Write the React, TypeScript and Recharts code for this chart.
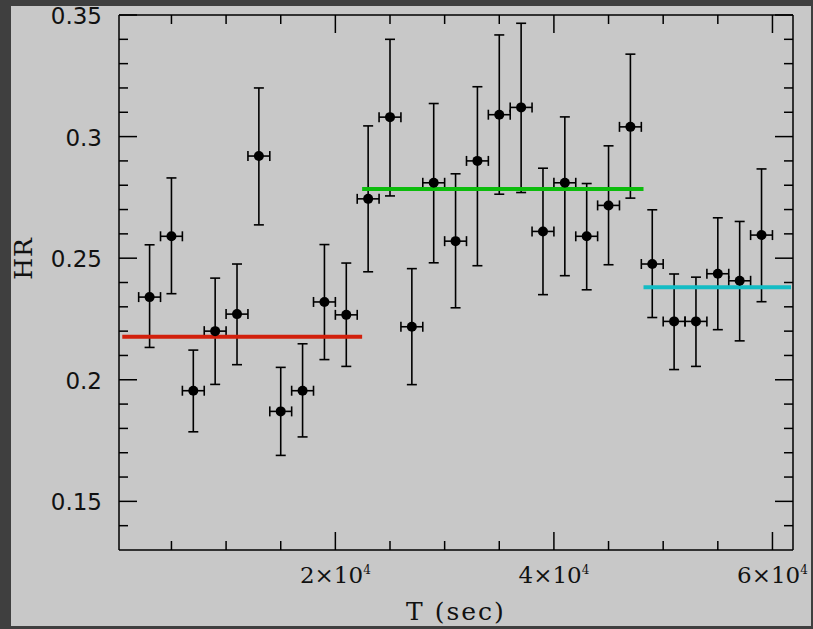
import React from 'react';
import {
  ComposedChart,
  Scatter,
  XAxis,
  YAxis,
  ErrorBar,
  ReferenceLine,
  Label,
} from 'recharts';

// time bin centres (sec) and hardness ratio with its error range
const times = [
  3000, 5000, 7000, 9000, 11000, 13000, 15000, 17000, 19000, 21000,
  23000, 25000, 27000, 29000, 31000, 33000, 35000, 37000, 39000, 41000,
  43000, 45000, 47000, 49000, 51000, 53000, 55000, 57000, 59000,
];
const hrValues = [
  0.234, 0.259, 0.1955, 0.22, 0.227, 0.292, 0.187, 0.1955, 0.232, 0.2267,
  0.2744, 0.308, 0.2218, 0.281, 0.257, 0.29, 0.309, 0.312, 0.261, 0.281,
  0.259, 0.2717, 0.304, 0.2476, 0.224, 0.224, 0.2436, 0.2407, 0.2595,
];
const hrUpper = [
  0.2555, 0.283, 0.2122, 0.2418, 0.2476, 0.32, 0.2051, 0.2148, 0.2556, 0.248,
  0.3044, 0.34, 0.2457, 0.3136, 0.2847, 0.3205, 0.3418, 0.3466, 0.287, 0.3081,
  0.2807, 0.2962, 0.3339, 0.2699, 0.2435, 0.2422, 0.2666, 0.2651, 0.2867,
];
const hrLower = [
  0.2133, 0.2354, 0.1786, 0.1981, 0.2062, 0.2637, 0.1689, 0.1765, 0.2083, 0.2055,
  0.2444, 0.2756, 0.198, 0.2481, 0.2296, 0.2469, 0.2763, 0.277, 0.235, 0.2428,
  0.237, 0.2473, 0.2747, 0.2256, 0.2042, 0.2055, 0.2206, 0.216, 0.2321,
];
const halfBin = 1000;

// mean HR of the three intervals
const fitStarts = [500, 22450, 48200];
const fitEnds = [22450, 48200, 61700];
const fitLevels = [0.2177, 0.2785, 0.238];
const fitColors = ['#d2200c', '#0cbc0c', '#14bcc4'];

const xTicks = [
  5000, 10000, 15000, 20000, 25000, 30000, 35000, 40000, 45000, 50000, 55000, 60000,
];
const xMajor = [20000, 40000, 60000];
const xMantissa = ['2', '4', '6'];
const yTicks = [
  0.14, 0.15, 0.16, 0.17, 0.18, 0.19, 0.2, 0.21, 0.22, 0.23, 0.24, 0.25,
  0.26, 0.27, 0.28, 0.29, 0.3, 0.31, 0.32, 0.33, 0.34, 0.35,
];
const yMajor = [0.15, 0.2, 0.25, 0.3, 0.35];
const yLabels = ['0.15', '0.2', '0.25', '0.3', '0.35'];

const data = times.map((t, i) => ({
  t,
  hr: hrValues[i],
  ex: halfBin,
  ey: [hrValues[i] - hrLower[i], hrUpper[i] - hrValues[i]],
}));

const serif = '"DejaVu Serif", serif';
const sans = '"DejaVu Sans", sans-serif';
const ink = '#000';
const major = 18;
const minor = 9;

const isMajorY = (v: number) => yMajor.some((m) => Math.abs(m - v) < 1e-6);

const BottomTick = ({ x, y, payload }: any) => {
  const i = xMajor.indexOf(payload.value);
  return (
    <g>
      <line x1={x} x2={x} y1={y} y2={y - (i >= 0 ? major : minor)} stroke={ink} strokeWidth={1.5} />
      {i >= 0 && (
        <text x={x} y={y + 33} textAnchor="middle" fontFamily={serif} fontSize={23} fill="#111">
          {xMantissa[i]}×10
          <tspan dy={-9} fontSize={12}>4</tspan>
        </text>
      )}
    </g>
  );
};

const TopTick = ({ x, y, payload }: any) => (
  <line
    x1={x}
    x2={x}
    y1={y}
    y2={y + (xMajor.includes(payload.value) ? major : minor)}
    stroke={ink}
    strokeWidth={1.5}
  />
);

const LeftTick = ({ x, y, payload }: any) => {
  const i = yMajor.findIndex((m) => Math.abs(m - payload.value) < 1e-6);
  return (
    <g>
      <line x1={x} x2={x + (i >= 0 ? major : minor)} y1={y} y2={y} stroke={ink} strokeWidth={1.5} />
      {i >= 0 && (
        <text x={x - 17} y={y + 9} textAnchor="end" fontFamily={sans} fontSize={23} fill="#111">
          {yLabels[i]}
        </text>
      )}
    </g>
  );
};

const RightTick = ({ x, y, payload }: any) => (
  <line
    x1={x}
    x2={x - (isMajorY(payload.value) ? major : minor)}
    y1={y}
    y2={y}
    stroke={ink}
    strokeWidth={1.5}
  />
);

const Dot = (p: any) => <circle cx={p.cx} cy={p.cy} r={5} fill={ink} />;

const axisLine = { stroke: ink, strokeWidth: 1.5 };
const xDomain = [200, 61880];
const yDomain = [0.13, 0.35];

export default function App() {
  return (
    <div
      style={{
        position: 'fixed',
        left: 0,
        top: 0,
        width: 813,
        height: 629,
        background: '#3f3f3f',
      }}
    >
      <style>{'.recharts-surface { overflow: visible; }'}</style>
      <div style={{ position: 'absolute', left: 11, top: 6, width: 800, height: 620, background: '#c8c8c8' }}>
        <ComposedChart
          width={800}
          height={620}
          data={data}
          margin={{ top: 4, right: 8, bottom: 16, left: 8 }}
        >
          <XAxis
            dataKey="t"
            type="number"
            domain={xDomain}
            ticks={xTicks}
            interval={0}
            height={60}
            tickSize={0}
            tickMargin={0}
            tickLine={false}
            axisLine={axisLine}
            tick={<BottomTick />}
            allowDataOverflow
          >
            <Label
              content={({ viewBox }: any) => (
                <text
                  x={viewBox.x + viewBox.width / 2}
                  y={viewBox.y + 70}
                  textAnchor="middle"
                  fontFamily={serif}
                  fontSize={25}
                  letterSpacing={2}
                  fill="#111"
                >
                  T (sec)
                </text>
              )}
            />
          </XAxis>
          <XAxis
            xAxisId="top"
            orientation="top"
            dataKey="t"
            type="number"
            domain={xDomain}
            ticks={xTicks}
            interval={0}
            height={5}
            tickSize={0}
            tickMargin={0}
            tickLine={false}
            axisLine={axisLine}
            tick={<TopTick />}
            allowDataOverflow
          />
          <YAxis
            type="number"
            domain={yDomain}
            ticks={yTicks}
            interval={0}
            width={100}
            tickSize={0}
            tickMargin={0}
            tickLine={false}
            axisLine={axisLine}
            tick={<LeftTick />}
            allowDataOverflow
          >
            <Label
              content={({ viewBox }: any) => {
                const cx = viewBox.x + viewBox.width - 96;
                const cy = viewBox.y + viewBox.height / 2 - 24;
                return (
                  <text
                    x={cx}
                    y={cy}
                    transform={`rotate(-90 ${cx} ${cy})`}
                    textAnchor="middle"
                    dominantBaseline="central"
                    fontFamily={serif}
                    fontSize={25}
                    letterSpacing={1}
                    fill="#111"
                  >
                    HR
                  </text>
                );
              }}
            />
          </YAxis>
          <YAxis
            yAxisId="right"
            orientation="right"
            type="number"
            domain={yDomain}
            ticks={yTicks}
            interval={0}
            width={10}
            tickSize={0}
            tickMargin={0}
            tickLine={false}
            axisLine={axisLine}
            tick={<RightTick />}
            allowDataOverflow
          />
          <Scatter dataKey="hr" fill={ink} shape={<Dot />} isAnimationActive={false}>
            <ErrorBar dataKey="ey" direction="y" width={5} stroke={ink} strokeWidth={1.6} isAnimationActive={false} />
            <ErrorBar dataKey="ex" direction="x" width={5} stroke={ink} strokeWidth={1.6} isAnimationActive={false} />
          </Scatter>
          {fitLevels.map((lvl, i) => (
            <ReferenceLine
              key={i}
              segment={[
                { x: fitStarts[i], y: lvl },
                { x: fitEnds[i], y: lvl },
              ]}
              stroke={fitColors[i]}
              strokeWidth={4}
            />
          ))}
        </ComposedChart>
      </div>
    </div>
  );
}
